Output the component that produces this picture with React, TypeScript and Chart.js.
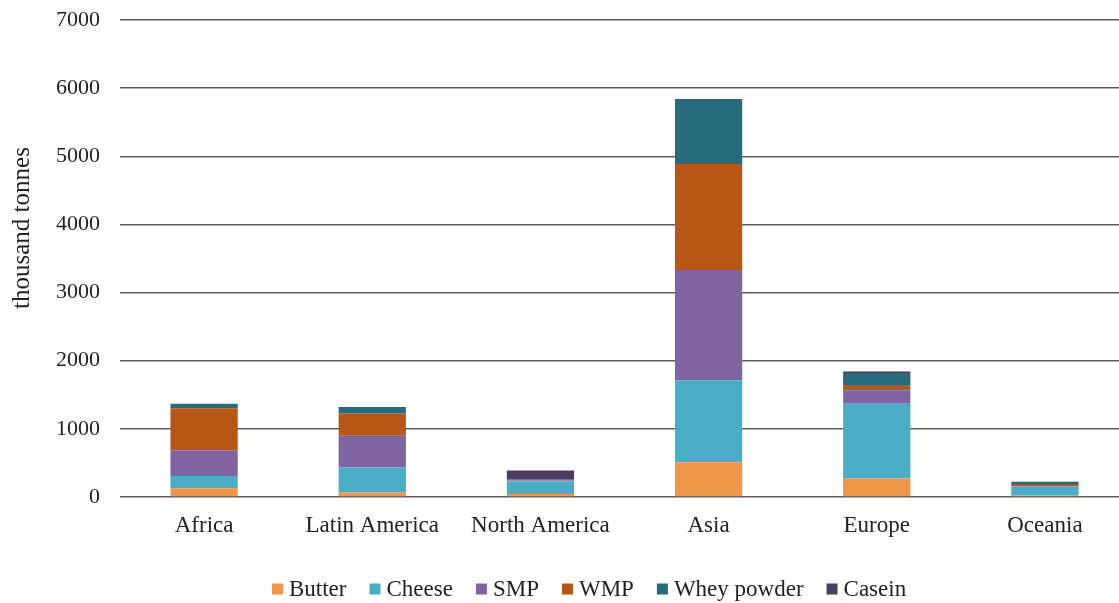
import React, { useEffect, useRef } from "react";
import { Chart, registerables } from "chart.js";

Chart.register(...registerables);

// Dairy product volumes by region, thousand tonnes
const regions = ["Africa", "Latin America", "North America", "Asia", "Europe", "Oceania"];
const butter = [128, 66, 45, 510, 270, 25];
const cheese = [180, 367, 186, 1205, 1100, 130];
const smp = [377, 465, 10, 1615, 195, 5];
const wmp = [616, 327, 5, 1555, 80, 30];
const wheyPowder = [67, 94, 15, 955, 176, 30];
const casein = [0, 0, 128, 0, 20, 5];

const seriesNames = ["Butter", "Cheese", "SMP", "WMP", "Whey powder", "Casein"];
const seriesColors = ["#F0964A", "#4BACC6", "#8064A2", "#B65718", "#286B7C", "#4C3B63"];
const seriesValues = [butter, cheese, smp, wmp, wheyPowder, casein];

const yTicks = [0, 1000, 2000, 3000, 4000, 5000, 6000, 7000];
const yTitle = "thousand tonnes";

const FONT = "'Liberation Serif', 'Times New Roman', serif";

// Legend row and rotated axis title drawn straight onto the canvas
const decorations = {
  id: "decorations",
  afterDraw(chart: any) {
    const ctx = chart.ctx as CanvasRenderingContext2D;
    ctx.save();
    ctx.font = `23px ${FONT}`;
    ctx.textBaseline = "middle";
    ctx.textAlign = "left";
    const box = 11;
    let x = 272;
    const y = 589;
    seriesNames.forEach((name, i) => {
      ctx.fillStyle = seriesColors[i];
      ctx.fillRect(x, y - box / 2, box, box);
      ctx.fillStyle = "#222222";
      ctx.fillText(name, x + box + 6, y + 1);
      x += box + 6 + ctx.measureText(name).width + 23;
    });

    ctx.font = `25px ${FONT}`;
    ctx.translate(22, 228);
    ctx.rotate(-Math.PI / 2);
    ctx.textAlign = "center";
    ctx.fillText(yTitle, 0, 0);
    ctx.restore();
  },
};

export default function App() {
  const canvasRef = useRef<HTMLCanvasElement | null>(null);

  useEffect(() => {
    const canvas = canvasRef.current;
    if (!canvas) return;
    const chart = new Chart(canvas, {
      type: "bar",
      data: {
        labels: regions,
        datasets: seriesNames.map((name, i) => ({
          label: name,
          data: seriesValues[i],
          backgroundColor: seriesColors[i],
          borderWidth: 0,
          barPercentage: 0.4,
          categoryPercentage: 1,
        })),
      },
      options: {
        animation: false,
        responsive: false,
        maintainAspectRatio: false,
        layout: { padding: { top: 20, left: 0, right: 0, bottom: 0 } },
        plugins: {
          legend: { display: false },
          tooltip: { enabled: false },
          title: { display: false },
        },
        scales: {
          x: {
            stacked: true,
            grid: { display: false, drawTicks: false },
            border: { display: false },
            ticks: {
              color: "#222222",
              font: { family: FONT, size: 23 },
              padding: 15,
            },
            afterFit(scale: any) {
              scale.height = 106;
            },
          },
          y: {
            stacked: true,
            min: 0,
            max: 7000,
            afterBuildTicks(scale: any) {
              scale.ticks = yTicks.map((v) => ({ value: v }));
            },
            grid: { color: "#5E5A5A", lineWidth: 1.5, drawTicks: false },
            border: { display: false },
            ticks: {
              color: "#222222",
              font: { family: FONT, size: 22 },
              padding: 20,
              callback: (v: any) => String(v),
            },
            afterFit(scale: any) {
              scale.width = 120;
              scale.paddingTop = 0;
              scale.paddingBottom = 0;
            },
          },
        },
      },
      plugins: [decorations],
    });
    return () => chart.destroy();
  }, []);

  return (
    <div
      style={{
        position: "fixed",
        left: 0,
        top: 0,
        width: 1119,
        height: 603,
        overflow: "hidden",
        background: "#ffffff",
      }}
    >
      <canvas ref={canvasRef} width={1129} height={603} style={{ display: "block" }} />
    </div>
  );
}
